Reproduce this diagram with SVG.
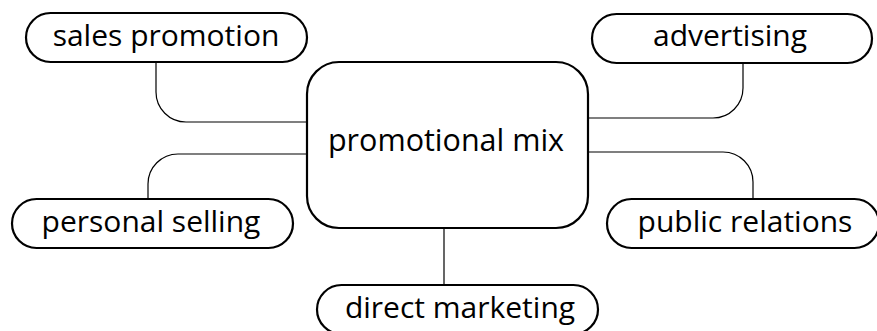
<svg xmlns="http://www.w3.org/2000/svg" width="877" height="331" viewBox="0 0 877 331">
<style>
.pill{fill:#fff;stroke:#000;stroke-width:2.2}
.conn{fill:none;stroke:#000;stroke-width:1.2}
.t{font-family:"Open Sans","Noto Sans","Liberation Sans",sans-serif;font-size:30px;fill:#000;text-anchor:middle}
</style>
<rect width="877" height="331" fill="#fff"/>
<g id="connectors">
<path class="conn" d="M156,62 V92 A30,30 0 0 0 186,122 H307"/>
<path class="conn" d="M743,63 V88 A30,30 0 0 1 713,118 H588"/>
<path class="conn" d="M148,199 V184 A30,30 0 0 1 178,154 H307"/>
<path class="conn" d="M753,199 V182 A30,30 0 0 0 723,152 H588"/>
<path class="conn" d="M444,228 V285"/>
</g>
<g id="promotional-mix">
<rect class="pill" x="307" y="62" width="281" height="166" rx="32" ry="32"/>
<text class="t" x="446" y="151" style="font-size:30.5px">promotional mix</text>
</g>
<g id="sales-promotion">
<rect class="pill" x="26" y="13" width="281" height="49" rx="24.5" ry="24.5"/>
<text class="t" x="166" y="46">sales promotion</text>
</g>
<g id="advertising">
<rect class="pill" x="592" y="14" width="280" height="49" rx="24.5" ry="24.5"/>
<text class="t" x="730" y="46">advertising</text>
</g>
<g id="personal-selling">
<rect class="pill" x="12" y="199" width="281" height="49" rx="24.5" ry="24.5"/>
<text class="t" x="151" y="232">personal selling</text>
</g>
<g id="public-relations">
<rect class="pill" x="607" y="199" width="272" height="49" rx="24.5" ry="24.5"/>
<text class="t" x="745" y="232">public relations</text>
</g>
<g id="direct-marketing">
<rect class="pill" x="317" y="285" width="281" height="49" rx="24.5" ry="24.5"/>
<text class="t" x="460" y="318">direct marketing</text>
</g>
</svg>
